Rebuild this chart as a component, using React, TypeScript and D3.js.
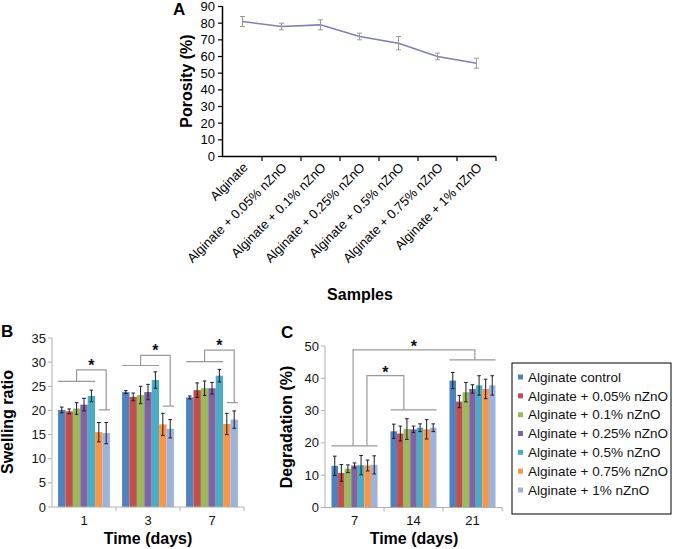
import React from "react";
import * as d3 from "d3";

const samples = [
  "Alginate",
  "Alginate + 0.05% nZnO",
  "Alginate + 0.1% nZnO",
  "Alginate + 0.25% nZnO",
  "Alginate + 0.5% nZnO",
  "Alginate + 0.75% nZnO",
  "Alginate + 1% nZnO",
];
const porosity = [81, 78, 79, 72, 68, 60, 56];
const porosityErr = [3, 2, 3, 2, 4, 2, 3];
const porosityTicks = [0, 10, 20, 30, 40, 50, 60, 70, 80, 90];

const series = [
  "Alginate control",
  "Alginate + 0.05% nZnO",
  "Alginate + 0.1% nZnO",
  "Alginate + 0.25% nZnO",
  "Alginate + 0.5% nZnO",
  "Alginate + 0.75% nZnO",
  "Alginate + 1% nZnO",
];
const colors = ["#4f81bd", "#c0504d", "#9bbb59", "#8064a2", "#4bacc6", "#f79646", "#9db3dc"];

const swellDays = ["1", "3", "7"];
const swelling = [
  [20.1, 19.8, 20.4, 21.2, 23.0, 15.5, 15.3],
  [23.8, 22.8, 23.2, 23.8, 26.3, 17.1, 16.2],
  [22.7, 24.2, 24.6, 24.6, 27.2, 17.2, 18.1],
];
const swellingErr = [
  [0.6, 0.5, 1.2, 1.3, 1.2, 2.0, 2.2],
  [0.3, 0.8, 1.8, 1.6, 1.7, 2.3, 1.9],
  [0.3, 1.5, 1.5, 1.2, 1.3, 2.2, 1.8],
];
const swellTicks = [0, 5, 10, 15, 20, 25, 30, 35];
// low line over bars 1-5, bracket top, short line over bars 6-7
const swellBrackets = [
  { low: 26.0, top: 28.4, right: 20.1 },
  { low: 29.3, top: 31.4, right: 20.9 },
  { low: 30.1, top: 32.5, right: 21.6 },
];

const degDays = ["7", "14", "21"];
const degradation = [
  [12.9, 10.7, 12.0, 13.0, 13.1, 13.0, 13.2],
  [23.6, 22.9, 24.3, 24.2, 24.7, 24.2, 24.7],
  [39.3, 32.8, 35.7, 36.7, 37.8, 36.7, 37.8],
];
const degradationErr = [
  [3.0, 2.6, 1.2, 0.8, 3.0, 1.7, 2.8],
  [2.2, 2.3, 3.2, 1.0, 1.2, 3.0, 1.2],
  [2.5, 1.9, 3.0, 1.3, 3.0, 3.0, 3.0],
];
const degTicks = [0, 10, 20, 30, 40, 50];
const degLines = [19.1, 30.2, 45.7];
const degSmallTop = 40.8;
const degBigTop = 48.8;

const font = "'Liberation Sans', Arial, sans-serif";
const axisGray = "#b0b0b0";
const bracketGray = "#999";

const Star = ({ x, y }: { x: number; y: number }) => (
  <text x={x} y={y + 8} textAnchor="middle" fontSize={16} fontWeight="bold" fill="#111">
    *
  </text>
);

const ErrBar = ({ x, y0, y1, color, cap }: { x: number; y0: number; y1: number; color: string; cap: number }) => (
  <g stroke={color} strokeWidth={1}>
    <line x1={x} x2={x} y1={y0} y2={y1} />
    <line x1={x - cap} x2={x + cap} y1={y0} y2={y0} />
    <line x1={x - cap} x2={x + cap} y1={y1} y2={y1} />
  </g>
);

const PanelA = () => {
  const x = d3.scaleBand().domain(samples).range([223, 496]);
  const y = d3.scaleLinear().domain([0, 90]).range([156.5, 6.5]);
  const cx = (i: number) => (x(samples[i]) as number) + x.bandwidth() / 2;
  const line = d3
    .line<number>()
    .x((_, i) => cx(i))
    .y((d) => y(d));
  const bounds = samples.map((s) => x(s) as number).concat([496]);

  return (
    <g>
      <text x={173} y={15} fontSize={17} fontWeight="bold">A</text>
      <path d={line(porosity) as string} fill="none" stroke="#7d7fb6" strokeWidth={1.6} />
      {porosity.map((v, i) => (
        <ErrBar key={i} x={cx(i)} y0={y(v + porosityErr[i])} y1={y(v - porosityErr[i])} color="#9a9a9a" cap={2.5} />
      ))}
      <line x1={222.5} x2={222.5} y1={6} y2={157} stroke="#000" strokeWidth={1.5} />
      <line x1={222} x2={496} y1={156.5} y2={156.5} stroke="#000" strokeWidth={1.5} />
      {porosityTicks.map((t) => (
        <g key={t}>
          <line x1={218} x2={222} y1={y(t)} y2={y(t)} stroke="#000" strokeWidth={1.2} />
          <text x={215} y={y(t)} dy="0.35em" textAnchor="end" fontSize={13}>{t}</text>
        </g>
      ))}
      {bounds.slice(1).map((b, i) => (
        <line key={i} x1={b} x2={b} y1={156.5} y2={161} stroke="#000" strokeWidth={1.2} />
      ))}
      {samples.map((s, i) => (
        <text
          key={s}
          transform={`translate(${cx(i) + 3},${165}) rotate(-45)`}
          textAnchor="end"
          dy="0.35em"
          fontSize={13}
        >
          {s}
        </text>
      ))}
      <text transform="translate(192,81) rotate(-90)" textAnchor="middle" fontSize={16} fontWeight="bold">
        Porosity (%)
      </text>
      <text x={360} y={300} textAnchor="middle" fontSize={16} fontWeight="bold">Samples</text>
    </g>
  );
};

const Bars = ({
  x, y, groups, values, errors,
}: {
  x: d3.ScaleBand<string>;
  y: d3.ScaleLinear<number, number>;
  groups: string[];
  values: number[][];
  errors: number[][];
}) => {
  const inner = d3.scaleBand<number>().domain(d3.range(series.length)).range([0, x.bandwidth()]);
  return (
    <g>
      {groups.map((g, gi) => (
        <g key={g} transform={`translate(${x(g)},0)`}>
          {values[gi].map((v, si) => (
            <rect
              key={si}
              x={inner(si)}
              y={y(v)}
              width={inner.bandwidth()}
              height={y(0) - y(v)}
              fill={colors[si]}
            />
          ))}
          {values[gi].map((v, si) => (
            <ErrBar
              key={si}
              x={(inner(si) as number) + inner.bandwidth() / 2}
              y0={y(v + errors[gi][si])}
              y1={y(v - errors[gi][si])}
              color="#1b1b2a"
              cap={1.8}
            />
          ))}
        </g>
      ))}
    </g>
  );
};

const Axes = ({
  x, y, groups, ticks, x0, x1,
}: {
  x: d3.ScaleBand<string>;
  y: d3.ScaleLinear<number, number>;
  groups: string[];
  ticks: number[];
  x0: number;
  x1: number;
}) => {
  const step = x.step();
  const first = (x(groups[0]) as number) - x.paddingInner() * step / 2;
  return (
    <g>
      <line x1={x0} x2={x0} y1={y(ticks[ticks.length - 1])} y2={y(0)} stroke={axisGray} />
      <line x1={x0} x2={x1} y1={y(0)} y2={y(0)} stroke={axisGray} />
      {ticks.map((t) => (
        <g key={t}>
          <line x1={x0 - 4} x2={x0} y1={y(t)} y2={y(t)} stroke={axisGray} />
          <text x={x0 - 6} y={y(t)} dy="0.35em" textAnchor="end" fontSize={13} fill="#111">{t}</text>
        </g>
      ))}
      {groups.map((g, i) => (
        <g key={g}>
          <line x1={first + step * (i + 1)} x2={first + step * (i + 1)} y1={y(0)} y2={y(0) + 4} stroke={axisGray} />
          <text x={(x(g) as number) + x.bandwidth() / 2} y={525} textAnchor="middle" fontSize={13} fill="#111">
            {g}
          </text>
        </g>
      ))}
    </g>
  );
};

const PanelB = () => {
  const x = d3.scaleBand().domain(swellDays).range([52, 244]).paddingInner(0.19).paddingOuter(0.095);
  const y = d3.scaleLinear().domain([0, 35]).range([507, 338]);
  const inner = d3.scaleBand<number>().domain(d3.range(series.length)).range([0, x.bandwidth()]);
  const bw = inner.bandwidth();
  return (
    <g>
      <text x={1} y={337} fontSize={17} fontWeight="bold">B</text>
      <Bars x={x} y={y} groups={swellDays} values={swelling} errors={swellingErr} />
      <Axes x={x} y={y} groups={swellDays} ticks={swellTicks} x0={52} x1={244} />
      {swellBrackets.map((b, i) => {
        const gx = x(swellDays[i]) as number;
        const l0 = gx + (inner(0) as number);
        const l1 = gx + (inner(4) as number) + bw;
        const lm = (l0 + l1) / 2;
        const rv = gx + (inner(6) as number) + bw / 2;
        const r0 = gx + (inner(5) as number) + bw / 2;
        const r1 = gx + (inner(6) as number) + bw;
        return (
          <g key={i}>
            <path
              d={`M${l0},${y(b.low)}H${l1}M${lm},${y(b.low)}V${y(b.top)}H${rv}V${y(b.right)}M${r0},${y(b.right)}H${r1}`}
              fill="none"
              stroke={bracketGray}
              strokeWidth={1.2}
            />
            <Star x={(lm + rv) / 2} y={y(b.top) - 7} />
          </g>
        );
      })}
      <text transform="translate(13,422) rotate(-90)" textAnchor="middle" fontSize={16} fontWeight="bold">
        Swelling ratio
      </text>
      <text x={148} y={544} textAnchor="middle" fontSize={16} fontWeight="bold">Time (days)</text>
    </g>
  );
};

const PanelC = () => {
  const x = d3.scaleBand().domain(degDays).range([325, 502]).paddingInner(0.22).paddingOuter(0.11);
  const y = d3.scaleLinear().domain([0, 50]).range([507.5, 346]);
  const gs = (i: number) => x(degDays[i]) as number;
  const bw = x.bandwidth();
  const bigL = gs(0) + bw * 0.47;
  const bigR = gs(2) + bw * 0.55;
  const smL = gs(0) + bw * 0.77;
  const smR = gs(1) + bw * 0.29;
  return (
    <g>
      <text x={281} y={338} fontSize={17} fontWeight="bold">C</text>
      <Bars x={x} y={y} groups={degDays} values={degradation} errors={degradationErr} />
      <Axes x={x} y={y} groups={degDays} ticks={degTicks} x0={325} x1={502} />
      <g fill="none" stroke={bracketGray} strokeWidth={1.2}>
        {degLines.map((v, i) => (
          <line key={i} x1={gs(i)} x2={gs(i) + bw} y1={y(v)} y2={y(v)} />
        ))}
        <path d={`M${bigL},${y(degLines[0])}V${y(degBigTop)}H${bigR}V${y(degLines[2])}`} />
        <path d={`M${smL},${y(degLines[0])}V${y(degSmallTop)}H${smR}V${y(degLines[1])}`} />
      </g>
      <Star x={(bigL + bigR) / 2} y={y(degBigTop) - 6} />
      <Star x={(smL + smR) / 2} y={y(degSmallTop) - 6} />
      <text transform="translate(292,427) rotate(-90)" textAnchor="middle" fontSize={16} fontWeight="bold">
        Degradation (%)
      </text>
      <text x={414} y={544} textAnchor="middle" fontSize={16} fontWeight="bold">Time (days)</text>
    </g>
  );
};

const Legend = () => {
  const row = d3.scaleLinear().domain([0, 6]).range([377, 490]);
  return (
    <g>
      <rect x={512} y={363} width={159} height={151} fill="#fff" stroke="#000" strokeWidth={1} />
      {series.map((s, i) => (
        <g key={s}>
          <rect x={518} y={row(i) - 2.5} width={5} height={5} fill={colors[i]} />
          <text x={528} y={row(i)} dy="0.35em" fontSize={13.5} fill="#111">{s}</text>
        </g>
      ))}
    </g>
  );
};

export default function App() {
  return (
    <svg
      width={673}
      height={549}
      style={{ position: "absolute", left: 0, top: 0, background: "#fff" }}
      fontFamily={font}
    >
      <PanelA />
      <PanelB />
      <PanelC />
      <Legend />
    </svg>
  );
}
